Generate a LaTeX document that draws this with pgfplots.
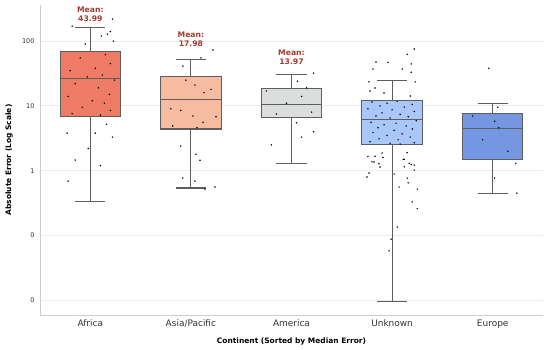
\documentclass[border=0pt]{standalone}
\usepackage{pgfplots}
\pgfplotsset{compat=1.18}
\usepackage{fontspec}
\setmainfont{DejaVu Sans}
\definecolor{cAf}{HTML}{EE7B66}
\definecolor{cAs}{HTML}{F5BCA2}
\definecolor{cAm}{HTML}{DCDDDD}
\definecolor{cUn}{HTML}{AAC7FB}
\definecolor{cEu}{HTML}{7597E2}
\definecolor{edgec}{HTML}{5E5E5E}
\definecolor{spinec}{HTML}{CCCCCC}
\definecolor{gridc}{HTML}{EBEBEB}
\definecolor{meanc}{HTML}{A63A2C}
\definecolor{txtc}{HTML}{333333}
\definecolor{ptc}{HTML}{8A8A8A}
\begin{document}
\begin{tikzpicture}
\begin{axis}[
  at={(0,0)}, anchor=south west,
  scale only axis, width=503bp, height=310bp,
  xmin=-0.5, xmax=4.5,
  ymode=log, ymin=0.00593, ymax=360.6,
  xtick={0,1,2,3,4},
  xticklabels={Africa,Asia/Pacific,America,Unknown,Europe},
  ytick={0.01,0.1,1,10,100},
  yticklabels={0,0,1,10,100},
  axis x line*=bottom, axis y line*=left,
  axis line style={draw=spinec, line width=0.8bp, -},
  major tick length=0pt, minor tick length=0pt,
  ymajorgrids, grid style={draw=gridc, line width=0.8bp},
  yminorgrids=false,
  xticklabel style={font=\fontsize{9}{11}\selectfont, text=txtc, yshift=-1.5bp},
  yticklabel style={font=\fontsize{6.5}{8}\selectfont, text=txtc, xshift=-2bp},
  every axis x label/.style={at={(axis description cs:0.5,-0.0839)}, anchor=center},
  every axis y label/.style={at={(axis description cs:-0.0616,0.5)}, rotate=90, anchor=center},
  xlabel={\fontsize{7.5}{9}\selectfont\bfseries Continent (Sorted by Median Error)},
  ylabel={\fontsize{7.5}{9}\selectfont\bfseries Absolute Error (Log Scale)},
  clip=false,
  bx/.style={draw=edgec, line width=1.1bp},
]
% Africa
\addplot[bx] coordinates {(0,0.33) (0,6.8)};
\addplot[bx] coordinates {(0,70) (0,160)};
\addplot[bx] coordinates {(-0.15,0.33) (0.15,0.33)};
\addplot[bx] coordinates {(-0.15,160) (0.15,160)};
\addplot[bx, fill=cAf] coordinates {(-0.3,6.8) (0.3,6.8) (0.3,70) (-0.3,70)} -- cycle;
\addplot[bx] coordinates {(-0.3,26.7) (0.3,26.7)};
% Asia/Pacific
\addplot[bx] coordinates {(1,0.54) (1,4.4)};
\addplot[bx] coordinates {(1,28.2) (1,52)};
\addplot[bx] coordinates {(0.85,0.54) (1.15,0.54)};
\addplot[bx] coordinates {(0.85,52) (1.15,52)};
\addplot[bx, fill=cAs] coordinates {(0.7,4.4) (1.3,4.4) (1.3,28.2) (0.7,28.2)} -- cycle;
\addplot[bx] coordinates {(0.7,12.5) (1.3,12.5)};
% America
\addplot[bx] coordinates {(2,1.31) (2,6.6)};
\addplot[bx] coordinates {(2,18.7) (2,30.7)};
\addplot[bx] coordinates {(1.85,1.31) (2.15,1.31)};
\addplot[bx] coordinates {(1.85,30.7) (2.15,30.7)};
\addplot[bx, fill=cAm] coordinates {(1.7,6.6) (2.3,6.6) (2.3,18.7) (1.7,18.7)} -- cycle;
\addplot[bx] coordinates {(1.7,10.4) (2.3,10.4)};
% Unknown
\addplot[bx] coordinates {(3,0.0097) (3,2.5)};
\addplot[bx] coordinates {(3,12.1) (3,25)};
\addplot[bx] coordinates {(2.85,0.0097) (3.15,0.0097)};
\addplot[bx] coordinates {(2.85,25) (3.15,25)};
\addplot[bx, fill=cUn] coordinates {(2.7,2.5) (3.3,2.5) (3.3,12.1) (2.7,12.1)} -- cycle;
\addplot[bx] coordinates {(2.7,6.2) (3.3,6.2)};
% Europe
\addplot[bx] coordinates {(4,0.45) (4,1.48)};
\addplot[bx] coordinates {(4,7.6) (4,10.8)};
\addplot[bx] coordinates {(3.85,0.45) (4.15,0.45)};
\addplot[bx] coordinates {(3.85,10.8) (4.15,10.8)};
\addplot[bx, fill=cEu] coordinates {(3.7,1.48) (4.3,1.48) (4.3,7.6) (3.7,7.6)} -- cycle;
\addplot[bx] coordinates {(3.7,4.5) (4.3,4.5)};
% jittered points
\addplot[only marks, mark=*, mark size=0.55bp, mark options={draw=none, fill=ptc, fill opacity=0.35}] coordinates {
(0.22,219) (0.17,128) (0.11,120) (0.23,100) (-0.05,90) (0.15,62) (-0.10,55) (0.20,45)
(0.05,38) (-0.20,35) (0.12,30) (-0.03,28) (0.24,25) (-0.15,22) (0.08,19) (0.19,15)
(-0.22,14) (0.02,12) (0.14,11) (-0.08,9.5) (0.20,8.5) (-0.18,7.6) (0.10,7.2) (0.16,5.2)
(-0.23,3.8) (0.05,3.8) (0.22,3.3) (-0.02,2.2) (-0.15,1.46) (0.10,1.2) (-0.22,0.69) (0.20,140) (-0.18,170)
(1.22,73) (0.92,41) (1.10,55) (1.13,16) (1.04,21) (0.95,25) (1.20,18) (0.80,9) (1.25,6.8)
(0.90,8.5) (1.02,7) (1.12,5.6) (0.82,4.9) (1.06,4.6) (0.90,2.4) (1.05,1.8) (1.09,1.45)
(0.92,0.77) (1.04,0.69) (1.24,0.56) (1.14,0.52)
(2.22,32) (2.06,24) (2.15,19) (1.75,17) (2.10,14) (1.95,11) (2.20,8) (1.85,7.5)
(2.05,5.5) (2.22,4.0) (2.10,3.3) (1.80,2.5)
(3.96,38) (4.05,9.5) (3.80,7) (4.02,5.8) (4.06,4.6) (4.15,2) (4.23,1.3) (4.02,0.77) (4.24,0.45) (3.90,3)
(3.22,75.5) (3.15,62.5) (3.19,44.4) (2.84,47.6) (2.96,47) (2.81,37) (3.19,33) (3.10,37)
(3.23,23.5) (2.77,23.5) (2.83,18.9) (2.78,17) (2.92,15.8) (3.18,14.2)
(2.80,11.5) (2.95,11) (3.05,11.8) (3.20,10.5) (2.88,10) (3.12,9.6) (2.76,9) (3.00,8.7)
(3.22,8.2) (2.90,7.8) (3.08,7.4) (2.84,7) (3.16,6.8) (2.98,6.5) (3.24,5.9) (2.79,5.6)
(3.04,5.4) (2.92,5.1) (3.14,4.9) (2.86,4.6) (3.20,4.4) (3.02,4.2) (2.81,3.9) (3.10,3.7)
(2.95,3.5) (3.18,3.3) (2.87,3.1) (3.06,3.0) (2.78,2.8) (3.22,2.7) (2.98,2.65)
(3.08,2.58) (2.76,1.66) (2.90,1.87) (3.15,1.9) (2.80,1.37) (3.11,1.5) (3.22,1.22) (3.17,1.3)
(2.87,1.28) (2.83,1.67) (2.91,1.6) (3.12,1.5) (2.82,1.36) (2.88,1.14) (3.12,1.15) (3.19,1.25)
(3.22,1.02) (2.77,0.92) (3.02,0.89) (2.75,0.8) (3.15,0.77) (3.16,0.65) (3.07,0.56)
(3.25,0.52) (3.20,0.33) (3.25,0.26) (3.05,0.135) (2.99,0.088) (2.97,0.058)
};
% mean labels
\node[align=center, text=meanc, font=\fontsize{7.7}{9}\selectfont\bfseries] at (axis cs:0,257) {Mean:\\43.99};
\node[align=center, text=meanc, font=\fontsize{7.7}{9}\selectfont\bfseries] at (axis cs:1,105) {Mean:\\17.98};
\node[align=center, text=meanc, font=\fontsize{7.7}{9}\selectfont\bfseries] at (axis cs:2,56.9) {Mean:\\13.97};
\end{axis}
\pgfresetboundingbox
\path (-40bp,-35bp) rectangle (510bp,315bp);
\end{tikzpicture}
\end{document}
